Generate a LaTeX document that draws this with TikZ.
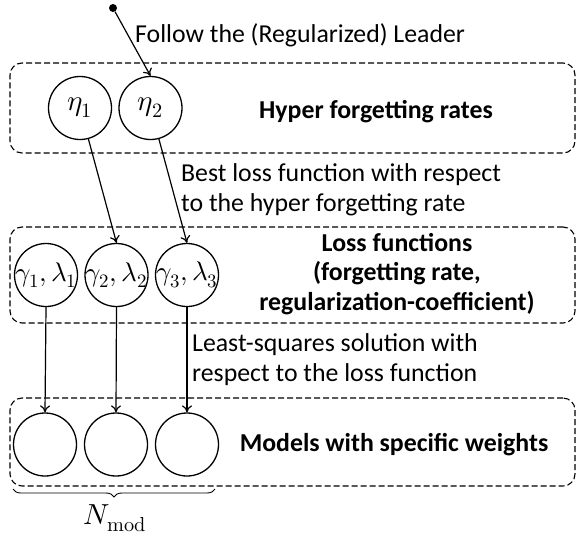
\documentclass[tikz,border=0pt]{standalone}
\usepackage{fontspec}
\usepackage{unicode-math}
\setmainfont{Carlito}
\setmathfont{Latin Modern Math}
\usetikzlibrary{arrows.meta,decorations.pathreplacing}
\begin{document}
\begin{tikzpicture}[x=1pt,y=-1pt,
  txt/.style={font=\fontsize{25.8}{30}\selectfont, inner sep=0pt},
  hd/.style={font=\fontsize{25.8}{29.5}\selectfont\bfseries, inner sep=0pt, align=center},
  unit/.style={circle, draw, line width=1.3pt, minimum size=63pt, inner sep=0pt},
  grp/.style={draw, dash pattern=on 6pt off 3pt, line width=1.1pt, rounded corners=12pt, minimum width=565pt, inner sep=0pt},
  conn/.style={-{To[length=7pt,width=10pt]}, line width=1.2pt},
  mlab/.style={font=\fontsize{27}{30}\selectfont},
  elab/.style={font=\fontsize{29}{32}\selectfont}]
\useasboundingbox (0,0) rectangle (577,536);
% groups
\node[grp, minimum height=90pt] (g1box) at (292.5,108) {};
\node[grp, minimum height=96pt] (g2box) at (292.5,275) {};
\node[grp, minimum height=88pt] (g3box) at (292.5,442) {};
% units
\node[unit, label={[elab]center:$\eta_1$}] (e1) at (80,108) {};
\node[unit, label={[elab]center:$\eta_2$}] (e2) at (150.5,108) {};
\node[unit, label={[mlab]center:$\gamma_1,\lambda_1$}] (l1) at (46,275) {};
\node[unit, label={[mlab]center:$\gamma_2,\lambda_2$}] (l2) at (116.5,275) {};
\node[unit, label={[mlab]center:$\gamma_3,\lambda_3$}] (l3) at (187,275) {};
\node[unit] (m1) at (45,444.5) {};
\node[unit] (m2) at (116,444.5) {};
\node[unit] (m3) at (187,444.5) {};
% start dot
\node[circle, fill, inner sep=0pt, minimum size=8pt] (dot) at (113,8) {};
% connectors
\draw[conn] (dot) -- (e2.north);
\draw[conn] (e1) -- (l2.north);
\draw[conn] (e2) -- (l3.north);
\draw[conn] (l1.south) -- (m1.north);
\draw[conn] (l2.south) -- (m2.north);
\draw[conn] (l3.south) -- (m3.north);
% brace
\coordinate (bl) at (13,489);
\coordinate (br) at (215,489);
\draw[decorate, decoration={brace, mirror, amplitude=8pt}, line width=0.9pt] (bl) -- (br);
\node[elab] (nmod) at (115,518) {$N_{\symup{mod}}$};
% texts
\node[txt, anchor=west] (t1) at (135,35) {Follow the (Regularized) Leader};
\node[hd] (h1) at (376,112) {Hyper forgetting rates};
\node[txt, anchor=west, align=left] (t2) at (181,190) {Best loss function with respect\\to the hyper forgetting rate};
\node[hd] (h2) at (397,274) {Loss functions\\(forgetting rate,\\regularization-coefficient)};
\node[txt, anchor=west, align=left] (t3) at (192,360) {Least-squares solution with\\respect to the loss function};
\node[hd] (h3) at (394,445) {Models with specific weights};
\end{tikzpicture}
\end{document}
